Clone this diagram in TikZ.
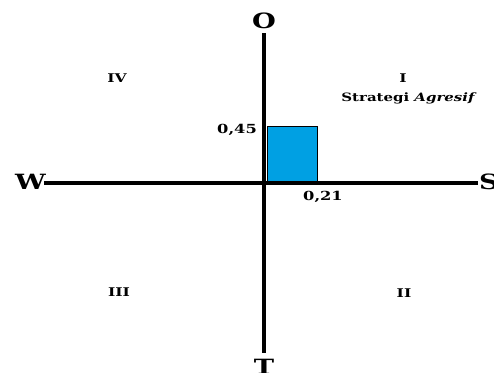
\documentclass[tikz,border=0pt]{standalone}
\usepackage{fontspec}
\setmainfont{Liberation Serif}
\newfontfamily\wfont[FakeStretch=1.3]{DejaVu Serif}
\definecolor{boxblue}{RGB}{0,160,227}
\begin{document}
\begin{tikzpicture}[x=1pt,y=-1pt,
  axis/.style={line width=4pt,black},
  bigl/.style={font=\wfont\bfseries\fontsize{21}{21}\selectfont,inner sep=0pt},
  quad/.style={font=\wfont\bfseries\fontsize{12}{12}\selectfont,inner sep=0pt},
  val/.style={font=\wfont\bfseries\fontsize{12.5}{12.5}\selectfont,inner sep=0pt}]
\useasboundingbox (0,0) rectangle (494,372);
\node[bigl] (O) at (264,21) {O};
\node[bigl,anchor=north] (T) at (264,359) {T};
\node[bigl,anchor=east] (W) at (46,182) {W};
\node[bigl,anchor=west] (S) at (479,182) {S};
\coordinate (otop) at (264,33);
\coordinate (tbot) at (264,353);
\coordinate (wl) at (44,183);
\coordinate (sr) at (478,183);
\draw[axis] (otop) -- (tbot);
\draw[axis] (wl) -- (sr);
\node[draw=black,line width=1.2pt,fill=boxblue,minimum width=50pt,minimum height=55pt,inner sep=0pt,anchor=south west] (box) at (266.5,182) {};
\node[val,anchor=east] (v45) at (257,130) {0,45};
\node[val] (v21) at (323,197) {0,21};
\node[quad] (q4) at (117,78) {IV};
\node[quad] (q1) at (403,78) {I};
\node[font=\wfont\bfseries\fontsize{11.5}{11.5}\selectfont,inner sep=0pt] (strat) at (409,98) {Strategi \textit{Agresif}};
\node[quad] (q3) at (119,292) {III};
\node[quad] (q2) at (404,293) {II};
\end{tikzpicture}
\end{document}
